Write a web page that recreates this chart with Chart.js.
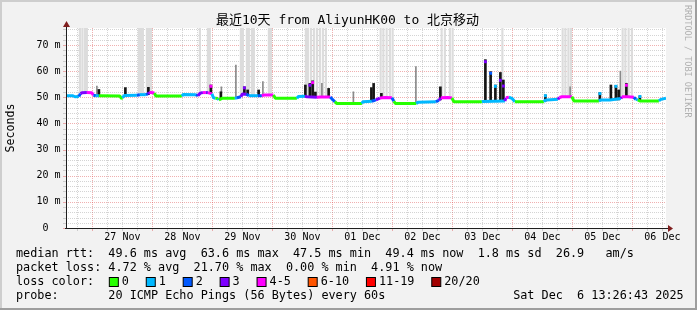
<!DOCTYPE html>
<html><head><meta charset="utf-8">
<script src="https://cdn.jsdelivr.net/npm/chart.js@4/dist/chart.umd.min.js"></script>
<style>html,body{margin:0;padding:0;background:#f2f2f2;}canvas{display:block;}</style>
</head><body>
<canvas id="c" width="697" height="310" style="width:697px;height:310px"></canvas>
<script>
// ---------- data (time = hours relative to 27 Nov 00:00) ----------
const chartTitle = '最近10天 from AliyunHK00 to 北京移动';
const xMin = -10.555, xMax = 229.445;
const yMin = 0, yMax = 76.5;
const dayLabelHours = [12, 36, 60, 84, 108, 132, 156, 180, 204, 228];
const dayLabels = ['27 Nov','28 Nov','29 Nov','30 Nov','01 Dec','02 Dec','03 Dec','04 Dec','05 Dec','06 Dec'];
const yTickValues = [0, 10, 20, 30, 40, 50, 60, 70];
const yTickLabels = ['0', '10 m', '20 m', '30 m', '40 m', '50 m', '60 m', '70 m'];
const lossLabels = ['0','1','2','3','4-5','6-10','11-19','20/20'];
const lossColors = ['#26ff00','#00b8ff','#0059ff','#7e00ff','#ff00ff','#ff5500','#ff0000','#a10000'];

const medianHours = [-10.56,-7.8,-7.0,-5.4,-4.8,-4.2,-2.2,-0.2,0.4,1.4,2.6,11.0,11.6,12.0,12.8,17.8,19.0,21.4,22.2,22.8,23.4,24.8,25.4,35.8,36.4,41.4,42.2,43.2,44.2,45.4,46.2,47.8,48.4,49.2,50.2,50.6,51.2,51.8,57.0,57.8,59.4,60.0,61.6,62.6,66.2,67.8,68.8,72.4,73.2,81.8,82.4,85.0,85.8,89.8,91.4,95.2,95.8,97.0,97.8,107.8,108.2,111.8,113.4,115.0,117.0,119.8,120.6,121.2,129.6,130.2,137.4,138.6,139.4,142.2,143.8,144.6,155.8,156.2,165.0,165.4,166.6,167.8,169.0,180.6,181.0,181.8,186.2,186.8,187.8,191.8,192.6,202.6,203.4,207.0,211.4,211.8,214.2,216.6,217.4,218.2,219.0,226.6,227.4,229.44];
const medianMs = [50.6,50.6,50.2,50.3,51.4,51.7,51.8,51.7,50.8,50.6,50.6,50.5,49.6,49.8,50.7,50.8,51.0,51.0,51.3,51.8,51.8,51.6,50.5,50.5,51.1,51.0,50.6,51.6,51.8,51.8,51.8,51.3,49.9,49.6,49.5,49.0,49.3,49.6,49.6,49.8,50.2,51.3,51.2,50.6,50.6,50.6,50.9,50.9,49.6,49.6,50.3,50.4,50.2,50.0,50.1,50.1,49.4,48.3,47.6,47.6,48.3,48.5,49.0,49.7,49.9,49.8,48.5,47.6,47.6,48.1,48.3,48.8,49.8,49.9,49.7,48.3,48.3,48.4,48.6,49.8,50.0,49.6,48.3,48.3,48.8,49.0,49.2,49.9,50.2,50.2,48.6,48.6,49.0,49.0,49.5,50.2,50.2,50.0,49.2,49.0,48.6,48.6,49.2,49.6];
const medianLoss = [1,1,1,2,3,3,4,4,2,1,0,0,0,1,1,2,1,2,3,4,4,0,0,1,1,2,3,3,4,3,4,1,1,0,1,0,0,0,1,2,3,3,2,1,2,4,4,0,0,1,1,3,3,4,4,2,2,0,0,1,1,2,3,4,4,2,0,0,1,1,2,3,4,4,0,0,1,1,3,4,1,1,0,1,1,1,3,4,4,0,0,1,1,1,3,4,4,2,1,0,0,1,1,1];

// dark smoke spikes
const darkHours = [2.6,13.2,22.4,47.4,51.4,60.8,62.1,66.5,85.2,87.0,88.1,89.2,94.5,111.6,112.5,115.6,139.2,157.2,159.3,161.2,163.2,164.4,181.2,203.0,207.4,209.4,210.5,213.6,219.0];
const darkLo =    [50.4,50.2,51.0,51.5,49.4,51.0,50.8,50.6,50.3,50.1,50.1,50.0,50.1,48.5,48.6,49.7,49.0,48.3,48.3,48.3,48.4,48.4,48.5,48.6,49.0,49.0,49.0,50.2,48.8];
const darkHi =    [53.0,53.7,53.8,54.7,52.1,54.0,52.8,52.8,54.7,55.3,56.3,52.0,53.4,53.7,55.3,51.5,54.0,64.4,59.8,54.7,59.5,56.6,50.9,51.8,54.7,54.5,52.8,55.3,50.5];
// median tips on top of spikes
const tipHours = [47.4,60.8,87.0,88.1,157.2,159.3,161.2,163.2,164.4,181.2,203.0,209.4,213.6,219.0];
const tipMs =    [54.2,53.6,54.6,55.6,63.6,59.2,54.2,56.5,54.3,50.6,51.4,54.2,54.6,50.3];
const tipLoss =  [4,3,3,4,3,2,1,3,3,1,1,1,4,1];
// medium grey smoke
const midHours = [1.8,51.6,57.4,68.2,91.8,104.4,129.4,191.1,211.2];
const midLo =    [50.6,52.0,49.6,50.6,50.1,47.6,47.6,50.2,49.5];
const midHi =    [54.3,54.0,62.3,56.0,55.3,52.1,61.7,54.0,60.0];
// light grey smoke reaching beyond the top
const lightHours = [-5.0,-4.0,-3.0,-2.2,18.6,19.4,20.2,21.8,22.6,23.4,43.0,46.2,47.0,59.4,60.2,61.8,62.6,63.8,64.6,70.6,71.4,85.4,86.2,87.4,88.6,89.8,91.0,92.2,93.4,115.3,116.4,117.7,119.0,120.1,139.7,141.0,143.0,144.1,164.0,188.1,189.2,190.4,191.4,212.1,213.2,214.5,215.8];
const lightLo =    [51.5,51.5,51.5,51.5,51.0,51.0,51.0,51.5,51.5,51.5,51.5,52.0,52.0,51.0,51.0,51.0,51.0,50.8,50.8,51.0,51.0,50.3,50.3,50.3,50.3,50.3,50.3,50.3,50.3,50.0,50.0,50.0,50.0,50.0,50.0,50.0,50.0,50.0,48.5,50.3,50.3,50.3,50.3,50.3,50.3,50.3,50.3];
const lightHi = 77;

const legendRtt  = 'median rtt:  49.6 ms avg  63.6 ms max  47.5 ms min  49.4 ms now  1.8 ms sd  26.9   am/s';
const legendLoss = 'packet loss: 4.72 % avg  21.70 % max  0.00 % min  4.91 % now';
const legendColorTitle = 'loss color:';
const legendProbe = 'probe:       20 ICMP Echo Pings (56 Bytes) every 60s';
const legendDate = 'Sat Dec  6 13:26:43 2025';
const unitLabel = 'Seconds';
const watermark = 'RRDTOOL / TOBI OETIKER';

// ---------- drawing ----------
const MONO = '"DejaVu Sans Mono", monospace';
const minorGrid = 'rgba(143,143,143,0.38)';
const majorGrid = 'rgba(222,79,79,0.45)';

const decor = {
  id: 'decor',
  beforeDraw(chart) {
    const ctx = chart.ctx, a = chart.chartArea;
    const xs = chart.scales.x, ys = chart.scales.y;
    ctx.save();
    ctx.fillStyle = '#f2f2f2';
    ctx.fillRect(0, 0, 697, 310);
    ctx.fillStyle = '#cecece';
    ctx.fillRect(0, 0, 697, 2); ctx.fillRect(0, 0, 2, 310);
    ctx.fillStyle = '#9e9e9e';
    ctx.fillRect(0, 308, 697, 2); ctx.fillRect(695, 0, 2, 310);
    ctx.fillStyle = '#ffffff';
    ctx.fillRect(a.left, a.top, a.right - a.left, a.bottom - a.top);
    ctx.lineWidth = 1;
    ctx.setLineDash([1, 1]);
    for (let h = Math.ceil(xMin / 6) * 6; h <= xMax; h += 6) {
      const x = Math.round(xs.getPixelForValue(h)) + 0.5;
      ctx.strokeStyle = (h % 24 === 0) ? majorGrid : minorGrid;
      ctx.beginPath(); ctx.moveTo(x, a.top); ctx.lineTo(x, a.bottom); ctx.stroke();
    }
    for (let v = 2; v < yMax; v += 2) {
      const y = Math.round(ys.getPixelForValue(v)) + 0.5;
      ctx.strokeStyle = (v % 10 === 0) ? majorGrid : minorGrid;
      ctx.beginPath(); ctx.moveTo(a.left, y); ctx.lineTo(a.right, y); ctx.stroke();
    }
    ctx.setLineDash([]);
    ctx.restore();
  },
  afterDatasetsDraw(chart) {
    const ctx = chart.ctx, a = chart.chartArea;
    const xs = chart.scales.x, ys = chart.scales.y;
    ctx.save();
    ctx.lineWidth = 1;
    for (let h = Math.ceil(xMin / 6) * 6; h <= xMax; h += 6) {
      const x = Math.round(xs.getPixelForValue(h)) + 0.5;
      ctx.strokeStyle = (h % 24 === 0) ? majorGrid : minorGrid;
      ctx.beginPath(); ctx.moveTo(x, a.bottom); ctx.lineTo(x, a.bottom + 3); ctx.stroke();
    }
    for (let v = 0; v < yMax; v += 2) {
      const y = Math.round(ys.getPixelForValue(v)) + 0.5;
      ctx.strokeStyle = (v % 10 === 0) ? majorGrid : minorGrid;
      ctx.beginPath(); ctx.moveTo(a.left - 3, y); ctx.lineTo(a.left, y); ctx.stroke();
    }
    ctx.strokeStyle = '#1f1f1f';
    const ax = Math.round(a.left) + 0.5, ay = Math.round(a.bottom) + 0.5;
    ctx.beginPath(); ctx.moveTo(a.left - 1, ay); ctx.lineTo(a.right + 3, ay); ctx.stroke();
    ctx.beginPath(); ctx.moveTo(ax, a.bottom + 1); ctx.lineTo(ax, a.top - 3); ctx.stroke();
    ctx.fillStyle = '#801f1f';
    ctx.beginPath(); ctx.moveTo(a.right + 2, ay - 3.5); ctx.lineTo(a.right + 7, ay); ctx.lineTo(a.right + 2, ay + 3.5); ctx.closePath(); ctx.fill();
    ctx.beginPath(); ctx.moveTo(ax - 3.5, a.top - 1); ctx.lineTo(ax, a.top - 7); ctx.lineTo(ax + 3.5, a.top - 1); ctx.closePath(); ctx.fill();

    ctx.fillStyle = '#000';
    ctx.textBaseline = 'middle';
    ctx.font = '10px ' + MONO;
    ctx.textAlign = 'center';
    dayLabelHours.forEach((h, i) => ctx.fillText(dayLabels[i], xs.getPixelForValue(h), 237.7));
    ctx.textAlign = 'right';
    yTickValues.forEach((v, i) => {
      const l = yTickLabels[i];
      ctx.fillText(l.length < 4 ? l + '  ' : l, 60.5, ys.getPixelForValue(v));
    });
    ctx.textAlign = 'center';
    ctx.font = '13px "DejaVu Sans Mono", "Noto Sans CJK SC", monospace';
    ctx.fillText(chartTitle, 347.5, 21);
    ctx.font = '11.6px ' + MONO;
    ctx.save(); ctx.translate(11, 128); ctx.rotate(-Math.PI / 2);
    ctx.fillText(unitLabel, 0, 0); ctx.restore();
    ctx.save(); ctx.translate(687, 5); ctx.rotate(Math.PI / 2);
    ctx.font = '8.5px ' + MONO; ctx.fillStyle = '#b0b0b0'; ctx.textAlign = 'left';
    ctx.fillText(watermark, 0, 0); ctx.restore();
    ctx.font = '11.8px ' + MONO;
    ctx.textAlign = 'left';
    const cw = ctx.measureText('0').width;
    const lx = 16;
    ctx.fillText(legendRtt, lx, 254);
    ctx.fillText(legendLoss, lx, 268);
    ctx.fillText(legendColorTitle, lx, 282);
    let idx = 14.9;
    lossLabels.forEach((lbl, i) => {
      const tx = lx + idx * cw;
      ctx.fillStyle = lossColors[i];
      ctx.fillRect(tx - 12.5, 277.5, 9, 9);
      ctx.strokeStyle = '#000'; ctx.lineWidth = 1;
      ctx.strokeRect(tx - 12.5, 277.5, 9, 9);
      ctx.fillStyle = '#000';
      ctx.fillText(lbl, tx, 282);
      idx += lbl.length + 4.2;
    });
    ctx.fillText(legendProbe, lx, 296);
    ctx.fillText(legendDate, lx + 70 * cw, 296);
    ctx.restore();
  }
};

const medianData = medianHours.map((h, i) => ({x: h, y: medianMs[i]}));
const darkData = darkHours.map((h, i) => ({x: h, y: [darkLo[i], darkHi[i]]}));
const midData = midHours.map((h, i) => ({x: h, y: [midLo[i], midHi[i]]}));
const lightData = lightHours.map((h, i) => ({x: h, y: [lightLo[i], lightHi]}));
const tipData = tipHours.map((h, i) => ({x: h, y: tipMs[i]}));

new Chart(document.getElementById('c'), {
  type: 'line',
  data: {
    datasets: [
      {type: 'bar', data: lightData, backgroundColor: '#dcdcdc', barThickness: 1.5, stack: 's', order: 5},
      {type: 'bar', data: midData, backgroundColor: '#8a8a8a', barThickness: 1, stack: 's', order: 4},
      {type: 'bar', data: darkData, backgroundColor: '#151515', barThickness: 2, stack: 's', order: 3},
      {type: 'line', data: medianData, borderWidth: 3, pointRadius: 0, tension: 0,
        borderJoinStyle: 'bevel', borderColor: lossColors[0],
        segment: {borderColor: c => lossColors[medianLoss[c.p0DataIndex]]}, order: 2},
      {type: 'line', data: tipData, showLine: false, pointStyle: 'rect', pointRadius: 2.1,
        pointBorderWidth: 0, pointBackgroundColor: tipLoss.map(l => lossColors[l]), order: 1}
    ]
  },
  options: {
    responsive: false, animation: false, devicePixelRatio: 1, events: [],
    layout: {padding: {left: 66, right: 31, top: 28, bottom: 82}},
    scales: {
      x: {type: 'linear', min: xMin, max: xMax, display: false, offset: false},
      y: {type: 'linear', min: yMin, max: yMax, display: false, stacked: false}
    },
    plugins: {legend: {display: false}, tooltip: {enabled: false}}
  },
  plugins: [decor]
});
</script>
</body></html>
